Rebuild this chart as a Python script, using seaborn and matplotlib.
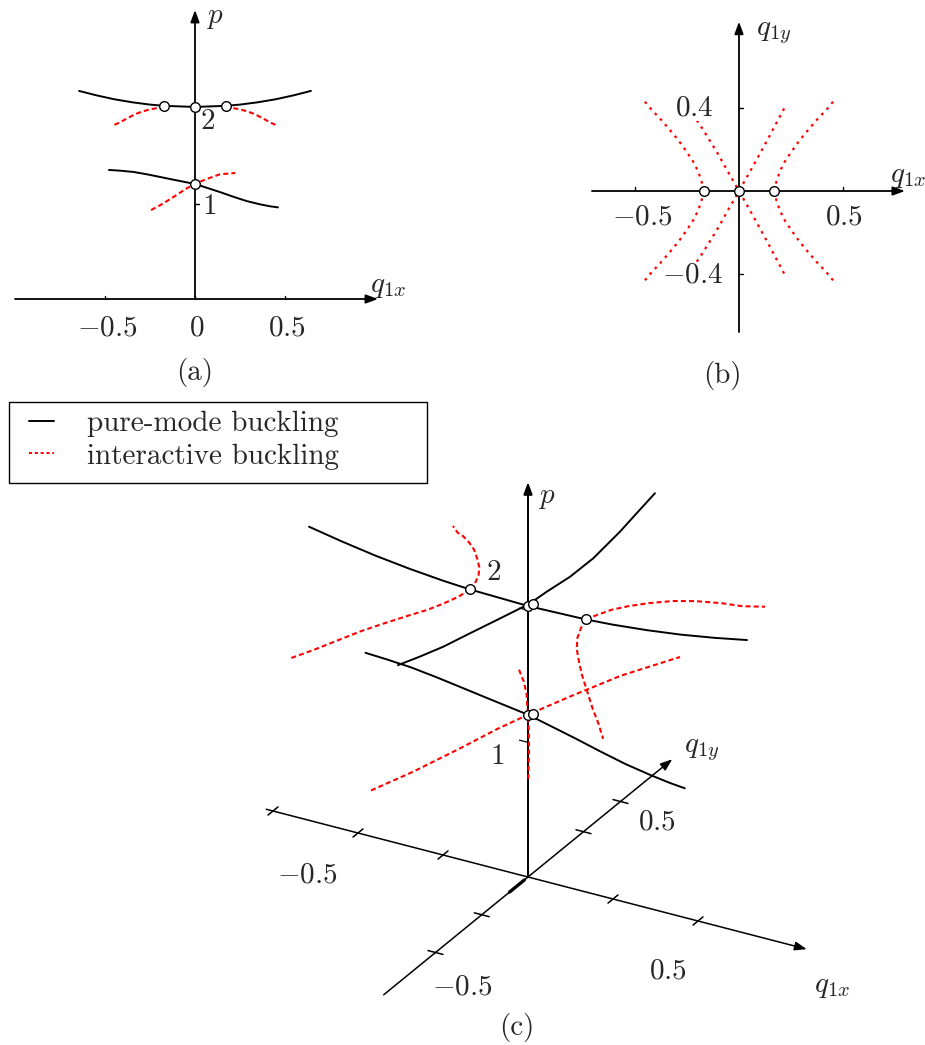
import numpy as np
import pandas as pd
import matplotlib
matplotlib.use("Agg")
import matplotlib.pyplot as plt
from matplotlib.lines import Line2D
from matplotlib.patches import Rectangle
import seaborn as sns

sns.set_style("white")
plt.rcParams.update({
    "font.family": "serif",
    "font.serif": ["cmr10"],
    "mathtext.fontset": "cm",
    "axes.formatter.use_mathtext": True,
    "axes.unicode_minus": False,
    "font.size": 21,
})

# ---------------------------------------------------------------- data
# pure-mode path 1 (lies in the plane q1y = 0)
mode1_qx = [-0.478, -0.417, -0.343, -0.268, -0.194, -0.121, -0.046, 0.0,
            0.065, 0.139, 0.213, 0.287, 0.361, 0.417, 0.461]
mode1_p = [0.717, 0.713, 0.706, 0.693, 0.678, 0.663, 0.648, 0.639,
           0.618, 0.594, 0.568, 0.544, 0.526, 0.515, 0.509]

# pure-mode path 2 along q1x (q1y = 0)
mode2_qx = [-0.644, -0.55, -0.45, -0.35, -0.25, -0.17, 0.0, 0.17, 0.25, 0.35, 0.45, 0.55, 0.644]
mode2_p = [1.156, 1.132, 1.110, 1.093, 1.080, 1.073, 1.067, 1.073, 1.080, 1.093, 1.110, 1.132, 1.156]

# pure-mode path 2 along q1y (q1x = 0)
mode2y_qy = [-0.703, -0.584, -0.458, -0.314, -0.169, -0.061, 0.011, 0.101,
             0.227, 0.353, 0.497, 0.588, 0.686]
mode2y_p = [1.252, 1.215, 1.179, 1.146, 1.112, 1.087, 1.071, 1.063,
            1.047, 1.045, 1.064, 1.083, 1.103]

# interactive branches leaving path 2 (one quarter; the others by symmetry in q1x, q1y)
branch_qx = [0.17, 0.18, 0.196, 0.22, 0.252, 0.292, 0.332, 0.38, 0.419, 0.459]
branch_qy = [0.0, 0.045, 0.093, 0.141, 0.189, 0.245, 0.293, 0.349, 0.389, 0.4375]
branch_p = [1.073, 1.068, 1.065, 1.059, 1.053, 1.042, 1.027, 1.002, 0.980, 0.963]

# interactive paths crossing at the path-1 bifurcation
cross_qx = [-0.244, -0.176, -0.102, -0.046, 0.0, 0.065, 0.139, 0.224]
cross_qy = [-0.40, -0.30, -0.18, -0.08, 0.0, 0.115, 0.25, 0.41]
cross_p = [0.494, 0.531, 0.578, 0.615, 0.639, 0.667, 0.693, 0.700]

# bifurcation points
bif_qx = [-0.17, 0.0, 0.17, 0.0]
bif_p = [1.073, 1.067, 1.073, 0.639]
bif3_qx = [-0.17, 0.0, 0.012, 0.17, 0.0, 0.015]
bif3_qy = [0.0, 0.0, 0.005, 0.0, 0.0, 0.0]
bif3_p = [1.073, 1.067, 1.077, 1.073, 0.639, 0.645]

# ticks
a_ticks = [-0.5, 0.0, 0.5]
a_ticklabels = ["$-0.5$", "$0$", "$0.5$"]
b_xticks = [-0.5, 0.5]
b_yticks = [-0.4, 0.4]
c_qx_ticks = [-0.75, -0.5, -0.25, 0.25, 0.5]
c_qy_ticks = [-0.5, -0.25, 0.3, 0.5]
p_marks = [0.53, 1.05]

RED = "#ff0000"
DASH = (0, (2.4, 1.5))
DOT = (0, (1.2, 2.2))

W, H = 925, 1045
fig = plt.figure(figsize=(W / 100, H / 100), dpi=100)


def panel(left, top, width, height, x0, y0, sx, sy):
    """Axes over a pixel box of the figure; (x0, y0) is the pixel of the data origin."""
    ax = fig.add_axes([left / W, 1 - (top + height) / H, width / W, height / H])
    ax.set_xlim((left - x0) / sx, (left + width - x0) / sx)
    ax.set_ylim((y0 - (top + height)) / sy, (y0 - top) / sy)
    ax.set_axis_off()
    ax.patch.set_alpha(0)
    return ax


def draw(ax, x, y, color="black", lw=1.4, ls="-", z=4):
    df = pd.DataFrame({"x": np.asarray(x, float), "y": np.asarray(y, float)})
    sns.lineplot(data=df, x="x", y="y", sort=False, estimator=None, errorbar=None,
                 ax=ax, color=color, linewidth=lw, linestyle=ls, zorder=z, legend=False)


def nodes(ax, x, y, s=48):
    sns.scatterplot(x=np.asarray(x, float), y=np.asarray(y, float), ax=ax, s=s,
                    color="white", edgecolor="black", linewidth=1.0, zorder=7, legend=False)


def arrow(ax, start, end, lw=1.3):
    ax.annotate("", xy=end, xytext=start, annotation_clip=False, zorder=2,
                arrowprops=dict(arrowstyle="-|>,head_length=0.6,head_width=0.22",
                                color="black", lw=lw, shrinkA=0, shrinkB=0,
                                mutation_scale=12))


qx1 = np.array(mode1_qx); p1 = np.array(mode1_p)
qx2 = np.array(mode2_qx); p2 = np.array(mode2_p)
bqx = np.array(branch_qx); bqy = np.array(branch_qy); bp = np.array(branch_p)
cqx = np.array(cross_qx); cqy = np.array(cross_qy); cp = np.array(cross_p)

# ---------------------------------------------------------------- (a) p against q1x
ax = panel(0, 0, 420, 400, 195, 299, 180, 180)
arrow(ax, (-1.0, 0), (1.017, 0))
arrow(ax, (0, 0), (0, 1.606))
for t in a_ticks:
    draw(ax, [t, t], [0, 0.018], lw=1.0, z=2)
for pm in p_marks:
    draw(ax, [0, 0.022], [pm, pm], lw=1.0, z=2)
draw(ax, qx2, p2)
draw(ax, qx1, p1)
for s in (-1, 1):
    draw(ax, s * bqx, bp, color=RED, ls=DASH, lw=1.5, z=3)
draw(ax, cqx, cp, color=RED, ls=DASH, lw=1.5, z=3)
nodes(ax, bif_qx, bif_p)
for t, lab in zip(a_ticks, a_ticklabels):
    ax.text(t + 0.012, -0.161, lab, ha="center", va="center")
ax.text(0.111, 1.561, "$p$", ha="center", va="center")
ax.text(1.072, 0.067, "$q_{1x}$", ha="center", va="center")
ax.text(0.072, 0.983, "$2$", ha="center", va="center")
ax.text(0.078, 0.511, "$1$", ha="center", va="center")
ax.text(0.0, -0.411, "(a)", ha="center", va="center")

# ---------------------------------------------------------------- (b) q1y against q1x
ax = panel(575, 0, 350, 400, 739, 191, 208, 208)
arrow(ax, (-0.707, 0), (0.798, 0))
arrow(ax, (0, -0.678), (0, 0.814))
for t in b_xticks:
    draw(ax, [t, t], [0, 0.018], lw=1.0, z=2)
for t in b_yticks:
    draw(ax, [0, 0.02], [t, t], lw=1.0, z=2)
for sx in (-1, 1):
    for sy in (-1, 1):
        draw(ax, sx * bqx, sy * bqy, color=RED, ls=DOT, lw=1.6, z=3)
draw(ax, cqx, cqy, color=RED, ls=DOT, lw=1.6, z=3)
draw(ax, cqx, -cqy, color=RED, ls=DOT, lw=1.6, z=3)
nodes(ax, bif_qx[:3], [0, 0, 0])
ax.text(-0.466, -0.125, "$-0.5$", ha="center", va="center")
ax.text(0.505, -0.125, "$0.5$", ha="center", va="center")
ax.text(-0.216, 0.399, "$0.4$", ha="center", va="center", zorder=5,
        bbox=dict(facecolor="white", edgecolor="none", pad=0))
ax.text(-0.226, -0.404, "$-0.4$", ha="center", va="center", zorder=5,
        bbox=dict(facecolor="white", edgecolor="none", pad=0))
ax.text(0.168, 0.76, "$q_{1y}$", ha="center", va="center")
ax.text(0.812, 0.067, "$q_{1x}$", ha="center", va="center")
ax.text(-0.082, -0.885, "(b)", ha="center", va="center")

# ---------------------------------------------------------------- (c) oblique view of (q1x, q1y, p)
EX = (340.0, -88.0)
EY = (185.0, 151.0)
EP = (0.0, 254.0)


def proj(qx, qy, p):
    qx, qy, p = (np.asarray(v, float) * np.ones(1) for v in (qx, qy, p))
    u = EX[0] * qx + EY[0] * qy + EP[0] * p
    w = EX[1] * qx + EY[1] * qy + EP[1] * p
    return u, w


def draw3(ax, qx, qy, p, **kw):
    u, w = proj(qx, qy, p)
    draw(ax, u, w, **kw)


def pt(qx, qy, p):
    u, w = proj(qx, qy, p)
    return float(u[0]), float(w[0])


ax = panel(240, 470, 685, 575, 528, 877, 1, 1)
arrow(ax, pt(-0.77, 0, 0), pt(0.82, 0, 0), lw=1.1)
arrow(ax, pt(0, -0.78, 0), pt(0, 0.78, 0), lw=1.1)
arrow(ax, pt(0, 0, 0), pt(0, 0, 1.555), lw=1.4)
for t in c_qx_ticks:
    draw3(ax, [t, t], [-0.027, 0.027], [0, 0], lw=1.1, z=2)
for t in c_qy_ticks:
    draw3(ax, [-0.022, 0.022], [t, t], [0, 0], lw=1.1, z=2)
draw3(ax, [0, 0], [-0.02, -0.1], [0, 0], lw=2.4, z=2)
for pm in p_marks:
    draw3(ax, [-0.025, 0], [0, 0], [pm, pm], lw=0.9, z=2)

draw3(ax, qx1, np.zeros_like(qx1), p1)
draw3(ax, qx2, np.zeros_like(qx2), p2)
draw3(ax, np.zeros(len(mode2y_qy)), mode2y_qy, mode2y_p)
for sx in (-1, 1):
    for sy in (-1, 1):
        draw3(ax, sx * bqx, sy * bqy, bp, color=RED, ls=DASH, lw=1.5, z=3)
draw3(ax, cqx, cqy, cp, color=RED, ls=DASH, lw=1.5, z=3)
draw3(ax, cqx, -cqy, cp, color=RED, ls=DASH, lw=1.5, z=3)
bu, bw = proj(bif3_qx, bif3_qy, bif3_p)
nodes(ax, bu, bw)

ax.text(-221, 2, "$-0.5$", ha="center", va="center")
ax.text(140, -94, "$0.5$", ha="center", va="center")
ax.text(129, 55, "$0.5$", ha="center", va="center")
ax.text(-66, -110, "$-0.5$", ha="center", va="center")
ax.text(19, 379, "$p$", ha="center", va="center")
ax.text(174, 127, "$q_{1y}$", ha="center", va="center")
ax.text(304, -110, "$q_{1x}$", ha="center", va="center")
ax.text(-34, 304, "$2$", ha="center", va="center")
ax.text(-31, 120, "$1$", ha="center", va="center")
ax.text(-11, -150, "(c)", ha="center", va="center")

# ---------------------------------------------------------------- legend
fig.add_artist(Rectangle((9 / W, 1 - 483 / H), 418 / W, 81 / H, transform=fig.transFigure,
                         fill=False, edgecolor="black", lw=1.0))
handles = [Line2D([], [], color="black", lw=1.4),
           Line2D([], [], color=RED, lw=1.4, ls=(0, (1.6, 1.4)))]
fig.legend(handles, ["pure-mode buckling", "interactive buckling"], loc="upper left",
           bbox_to_anchor=(29 / W, 1 - 411 / H), frameon=False, borderpad=0,
           borderaxespad=0, handlelength=0.85, handletextpad=1.15, labelspacing=0.2,
           fontsize=21)

fig.savefig("out.png", dpi=100)
